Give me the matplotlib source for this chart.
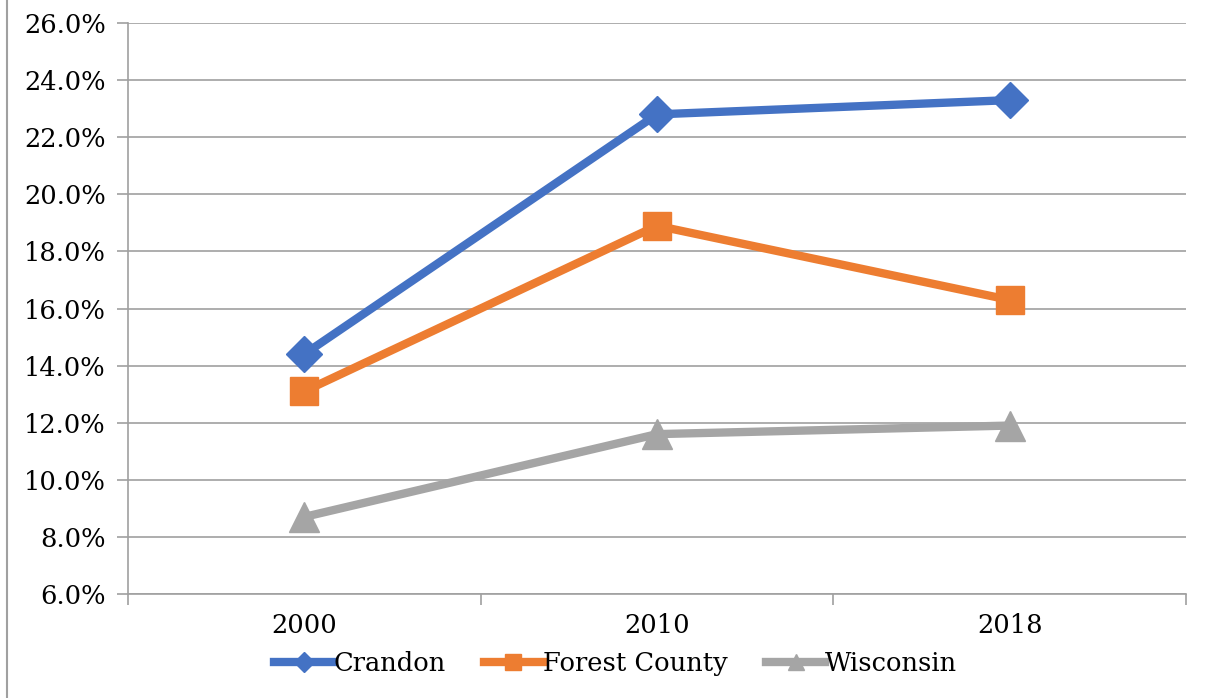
import numpy as np
import matplotlib.pyplot as plt
from matplotlib.ticker import FuncFormatter, FixedLocator

# data
years = ['2000', '2010', '2018']
crandon = [14.4, 22.8, 23.3]
forest_county = [13.1, 18.9, 16.3]
wisconsin = [8.7, 11.6, 11.9]

plt.rcParams['font.family'] = ['DejaVu Serif']
fs = 18.5

fig = plt.figure(figsize=(12.07, 6.98), dpi=100)
ax = fig.add_axes([0.106, 0.149, 0.8766, 0.818])

x = np.arange(len(years)) + 0.5
ax.plot(x, crandon, color='#4472C4', lw=6, marker='D', ms=18, label='Crandon', zorder=3)
ax.plot(x, forest_county, color='#ED7D31', lw=6, marker='s', ms=20, label='Forest County', zorder=3)
ax.plot(x, wisconsin, color='#A5A5A5', lw=6, marker='^', ms=21, label='Wisconsin', zorder=3)

ax.set_xlim(0, 3)
ax.set_ylim(6, 26)
ax.set_yticks(np.arange(6, 26.1, 2))
ax.yaxis.set_major_formatter(FuncFormatter(lambda v, p: f'{v:.1f}%'))
ax.xaxis.set_major_locator(FixedLocator([0, 1, 2, 3]))
ax.xaxis.set_major_formatter(FuncFormatter(lambda v, p: ''))
ax.set_xticks(x, years, minor=True)
ax.tick_params(axis='x', which='minor', length=0, pad=14, labelsize=fs)
ax.tick_params(axis='x', which='major', length=8, color='#A0A0A0', width=1.2)
ax.tick_params(axis='y', length=8, color='#A0A0A0', width=1.2, pad=8, labelsize=fs)

ax.grid(axis='y', color='#A0A0A0', lw=1.2, zorder=0)
for s in ['top', 'right']:
    ax.spines[s].set_visible(False)
for s in ['left', 'bottom']:
    ax.spines[s].set_color('#A0A0A0')
    ax.spines[s].set_linewidth(1.2)

leg = ax.legend(loc='center', bbox_to_anchor=(0.461, -0.121), ncol=3, frameon=False,
                fontsize=fs, handlelength=2.3, handletextpad=0.0, columnspacing=1.5,
                markerscale=0.55)

# left border of the chart frame
fig.add_artist(plt.Line2D([0.006, 0.006], [0, 1], color='#A0A0A0', lw=1.5))

fig.savefig('out.png', dpi=100)
